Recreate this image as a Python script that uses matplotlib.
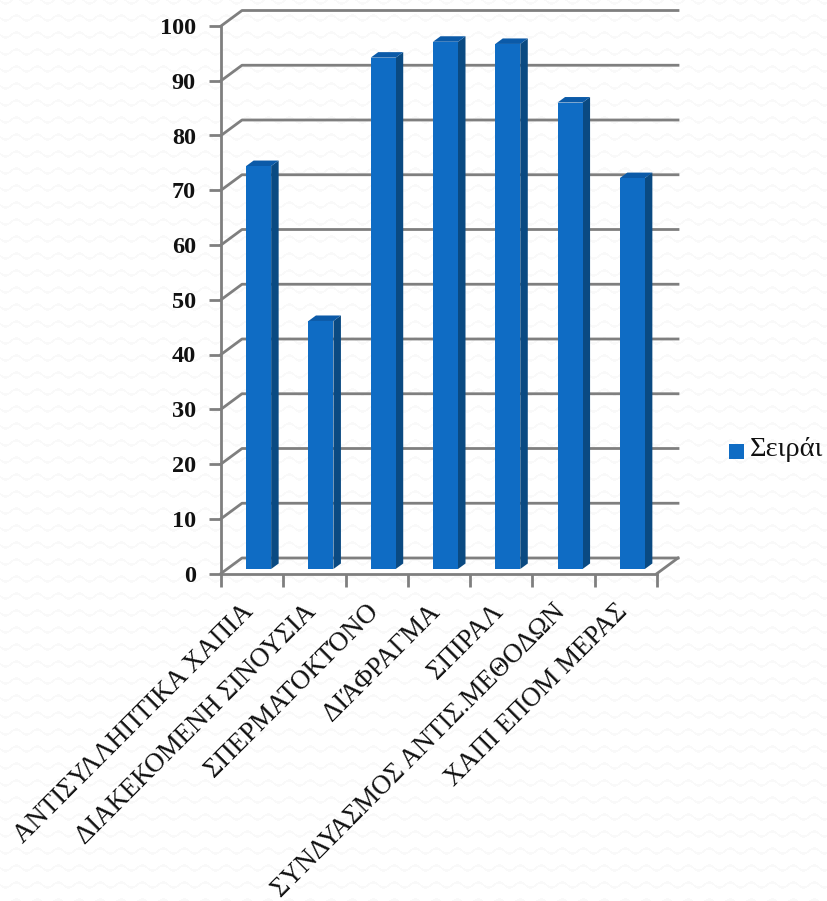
import numpy as np
import matplotlib
matplotlib.use("Agg")
import matplotlib.pyplot as plt
from matplotlib.patches import Polygon, Rectangle

categories = ["ΑΝΤΙΣΥΛΛΗΠΤΙΚΑ ΧΑΠΙΑ", "ΔΙΑΚΕΚΟΜΕΝΗ ΣΙΝΟΥΣΙΑ", "ΣΠΕΡΜΑΤΟΚΤΌΝΟ", "ΔΙΆΦΡΑΓΜΑ",
              "ΣΠΙΡΑΛ", "ΣΥΝΔΥΑΣΜΟΣ ΑΝΤΙΣ.ΜΕΘΟΔΩΝ", "ΧΑΠΙ ΕΠΟΜ ΜΕΡΑΣ"]
values = [73.6, 45.3, 93.4, 96.3, 95.9, 85.2, 71.4]
yticks = list(range(0, 101, 10))
series_name = "Σειράι"

W, H = 827, 901
plt.rcParams['font.family'] = ['Liberation Serif', 'DejaVu Serif']
fig = plt.figure(figsize=(W / 100, H / 100), dpi=100, facecolor='#ffffff')

# faint wavy paper texture behind the chart
yy, xx = np.mgrid[0:H, 0:W]
dist = np.abs(((yy - 2.5 * np.sin(2 * np.pi * xx / 21) + 8) % 17) - 8.5)
texture = np.where(dist < 1.2, 0.975, 0.997)
fig.figimage(texture, cmap='gray', vmin=0, vmax=1, zorder=-1)

L, R, T, B = 221, 657, 26, 573.5
ax = fig.add_axes([L / W, 1 - B / H, (R - L) / W, (B - T) / H])
ax.set_xlim(0, len(categories))
ax.set_ylim(0, 100)
ax.patch.set_visible(False)
for s in ['top', 'right']:
    ax.spines[s].set_visible(False)
for s in ['left', 'bottom']:
    ax.spines[s].set_color('#7f7f7f')
    ax.spines[s].set_linewidth(2)

px_x = len(categories) / (R - L)
px_y = 100 / (B - T)
DX, DY = 21 * px_x, 15.5 * px_y   # full depth of the 3-D box

gc = '#7f7f7f'
nc = len(categories)
for v in yticks:
    ax.plot([0, DX, nc + DX], [v, v + DY, v + DY], color=gc, lw=2, clip_on=False,
            solid_joinstyle='round', zorder=1)
ax.plot([nc, nc + DX], [0, DY], color=gc, lw=2, clip_on=False, zorder=1)

bw = 25 * px_x
d0x, d0y = 6.5 * px_x, 4.5 * px_y
ddx, ddy = 7.5 * px_x, 5.5 * px_y
front, side, top = '#0f6cc4', '#0a4a82', '#0b5aa8'
for i, v in enumerate(values):
    x0 = i + 0.5 - bw / 2 + d0x
    x1 = x0 + bw
    y0, y1 = d0y, v + d0y
    ax.add_patch(Polygon([(x1, y0), (x1 + ddx, y0 + ddy), (x1 + ddx, y1 + ddy), (x1, y1)],
                         fc=side, ec='none', clip_on=False, zorder=3))
    ax.add_patch(Polygon([(x0, y1), (x1, y1), (x1 + ddx, y1 + ddy), (x0 + ddx, y1 + ddy)],
                         fc=top, ec='none', clip_on=False, zorder=3))
    ax.add_patch(Rectangle((x0, y0), bw, v, fc=front, ec='none', clip_on=False, zorder=4))

ax.set_yticks(yticks)
ax.set_yticklabels([str(v) for v in yticks], fontsize=17.5, fontweight='bold', color='#111111')
ax.set_xticks(range(nc + 1))
ax.set_xticklabels([])
ax.tick_params(axis='both', color=gc, width=2, length=9)
ax.tick_params(axis='y', pad=9)

for i, c in enumerate(categories):
    ax.annotate(c, xy=(i + 0.5, 0), xycoords='data', xytext=(-11, -26), textcoords='offset pixels',
                rotation=45, rotation_mode='anchor', ha='right', va='top', fontsize=19.3, color='#111111')

fig.patches.append(Rectangle((729 / W, 1 - 459 / H), 15 / W, 15 / H, transform=fig.transFigure,
                             fc=front, ec='none'))
fig.text(750 / W, 1 - 450 / H, series_name, fontsize=20.5, color='#111111', va='center', ha='left')

fig.savefig('out.png', dpi=100, facecolor=fig.get_facecolor())
